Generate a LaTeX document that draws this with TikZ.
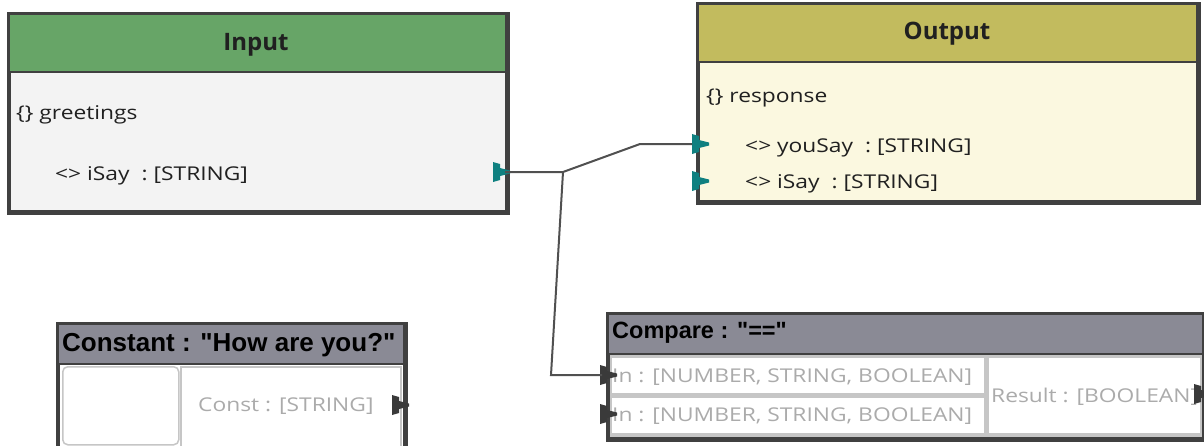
\documentclass[tikz,border=0pt]{standalone}
\usepackage{fontspec}
\setmainfont{Open Sans}
\newfontfamily\bodyf[FakeStretch=1.2]{Open Sans}
\newfontfamily\arialf{Liberation Sans}
\definecolor{ingreen}{HTML}{67A567}
\definecolor{inbody}{HTML}{F3F3F3}
\definecolor{outhead}{HTML}{C2BB5E}
\definecolor{outbody}{HTML}{FBF8E0}
\definecolor{border}{HTML}{404040}
\definecolor{graybar}{HTML}{8A8A95}
\definecolor{porteal}{HTML}{0F8080}
\definecolor{portblk}{HTML}{3A3A3A}
\definecolor{cellline}{HTML}{C6C6C6}
\definecolor{faint}{HTML}{ABABAB}
\definecolor{wire}{HTML}{505050}
\definecolor{txt}{HTML}{202020}
\tikzset{
  outerbox/.style={draw=border, line width=3pt, inner sep=0pt, anchor=north west},
  headbox/.style={draw=border, line width=1.5pt, inner sep=0pt, anchor=north west},
  cellbox/.style={draw=cellline, line width=1.5pt, fill=white, inner sep=0pt, anchor=north west},
  headtxt/.style={font=\fontsize{24}{28}\selectfont\bfseries, text=txt, inner sep=0pt},
  arialhead/.style={font=\arialf\fontsize{26}{29}\selectfont\bfseries, text=black, inner sep=0pt, anchor=west},
  bodytxt/.style={font=\bodyf\fontsize{19}{22}\selectfont, text=txt, inner sep=0pt, anchor=west},
  fainttxt/.style={font=\bodyf\fontsize{19}{22}\selectfont, text=faint, inner sep=0pt, anchor=west},
  wireline/.style={draw=wire, line width=2pt},
  port/.pic={\fill[pic actions] (0,-10) -- (7,-8) -- (7,-4) -- (17,-1.5) -- (17,1.5) -- (7,4) -- (7,8) -- (0,10) -- cycle;}
}
\begin{document}
\begin{tikzpicture}[x=1pt, y=-1pt]
\useasboundingbox (0,0) rectangle (1204,445);
\clip (0,0) rectangle (1204,445);

% ---------- Input ----------
\node[outerbox, fill=inbody, minimum width=497pt, minimum height=197pt] (input) at (8,13) {};
\node[headbox, fill=ingreen, minimum width=497pt, minimum height=58pt] (inputH) at (8,13) {};
\draw[border, line width=3pt] (input.north west) rectangle (input.south east);
\node[headtxt] (inputT) at (256,45) {Input};
\node[bodytxt] (greet) at (16,115) {\{\}~greetings};
\node[bodytxt] (isay1) at (55,176) {<>~iSay\hspace{12pt}:~[STRING]};

% ---------- Output ----------
\node[outerbox, fill=outbody, minimum width=499pt, minimum height=197pt] (output) at (697,3) {};
\node[headbox, fill=outhead, minimum width=499pt, minimum height=58pt] (outputH) at (697,3) {};
\draw[border, line width=3pt] (output.north west) rectangle (output.south east);
\node[headtxt] (outputT) at (947,34) {Output};
\node[bodytxt] (resp) at (706,98) {\{\}~response};
\node[bodytxt] (yousay) at (745,148) {<>~youSay\hspace{12pt}:~[STRING]};
\node[bodytxt] (isay2) at (745,184) {<>~iSay\hspace{12pt}:~[STRING]};

% ---------- Constant ----------
\node[outerbox, fill=white, minimum width=346pt, minimum height=130pt] (const) at (57,323) {};
\node[headbox, fill=graybar, minimum width=346pt, minimum height=40pt] (constH) at (57,323) {};
\draw[border, line width=3pt] (const.north west) rectangle (const.south east);
\node[cellbox, rounded corners=5pt, minimum width=116pt, minimum height=78pt] (constL) at (62,366) {};
\node[cellbox, minimum width=220pt, minimum height=84pt] (constR) at (180,366) {};
\node[arialhead] (constT) at (62,345) {Constant : "How are you?"};
\node[fainttxt] (constV) at (198,406) {Const : [STRING]};

% ---------- Compare ----------
\node[outerbox, fill=cellline, minimum width=595pt, minimum height=124pt] (cmp) at (607,313) {};
\node[headbox, fill=graybar, minimum width=595pt, minimum height=40pt] (cmpH) at (607,313) {};
\node[cellbox, minimum width=374pt, minimum height=37pt] (row1) at (610,356) {};
\node[cellbox, minimum width=374pt, minimum height=37pt] (row2) at (610,396) {};
\node[cellbox, minimum width=213pt, minimum height=77pt] (res) at (987,356) {};
\draw[border, line width=3pt] (cmp.north west) rectangle (cmp.south east);
\node[arialhead, font=\arialf\fontsize{23.5}{27}\selectfont\bfseries] (cmpT) at (612,333) {Compare : "=="};
\node[fainttxt] (in1) at (612,377) {In : [NUMBER, STRING, BOOLEAN]};
\node[fainttxt] (in2) at (612,416) {In : [NUMBER, STRING, BOOLEAN]};
\node[fainttxt] (resT) at (991,397) {Result : [BOOLEAN]};

% ---------- ports ----------
\pic[fill=porteal] at (493,172) {port};
\pic[fill=porteal] at (692,144) {port};
\pic[fill=porteal] at (692,181) {port};
\pic[fill=portblk] at (392,405) {port};
\pic[fill=portblk] at (600,375) {port};
\pic[fill=portblk] at (600,414) {port};
\pic[fill=portblk] at (1194,394) {port};

\coordinate (iSayOut) at (505,172);
\coordinate (youSayIn) at (692,144);
\coordinate (cmpIn1) at (602,375);
\coordinate (j1) at (563,172);
\coordinate (j2) at (640,144);
\coordinate (j3) at (551,375);

% ---------- wires ----------
\draw[wireline] (iSayOut) -- (j1) -- (j2) -- (youSayIn);
\draw[wireline] (j1) -- (j3) -- (cmpIn1);
\end{tikzpicture}
\end{document}
